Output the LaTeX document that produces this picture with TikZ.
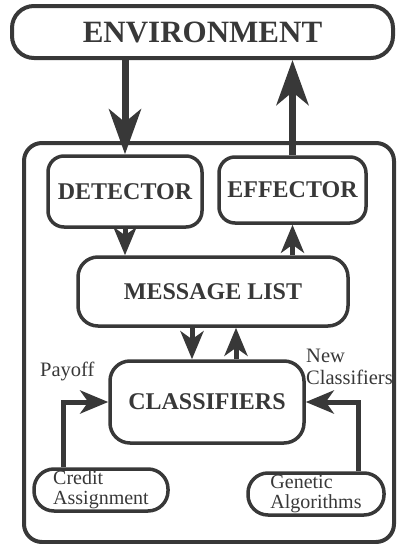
\documentclass[tikz,border=0pt]{standalone}
\usepackage{fontspec}
\setmainfont{Liberation Serif}
\usetikzlibrary{arrows.meta}

\definecolor{ink}{gray}{0.22}

\tikzset{
    box/.style={draw=ink, line width=3.5pt, rounded corners=16pt, text=ink,
        font=\fontsize{24}{28}\selectfont\bfseries},
    pill/.style={draw=ink, line width=3.5pt, rounded corners=20pt, text=ink,
        align=left, inner sep=0pt, font=\fontsize{20}{20}\selectfont},
    note/.style={text=ink, inner sep=0pt, font=\fontsize{20.5}{22}\selectfont},
    bigflow/.style={draw=ink, line width=7pt, -{Stealth[length=45pt, width=32pt, inset=13pt]}},
    flow/.style={draw=ink, line width=5pt, -{Stealth[length=28pt, width=23pt, inset=8pt]}},
}

\begin{document}
\begin{tikzpicture}[x=1pt, y=-1pt]
    \useasboundingbox (0,0) rectangle (398,544);

    % environment and the system frame
    \node[box, line width=4pt, rounded corners=22pt, minimum width=381pt, minimum height=52pt,
        font=\fontsize{31}{36}\selectfont\bfseries] (env) at (202.5,32) {ENVIRONMENT};
    \draw[ink, line width=4pt, rounded corners=18pt] (24,143) rectangle (394,542);

    \node[box, minimum width=154pt, minimum height=71pt] (det) at (125,191.5) {DETECTOR};
    \node[box, minimum width=147pt, minimum height=66pt] (eff) at (292.5,190) {EFFECTOR};
    \node[box, rounded corners=20pt, minimum width=270pt, minimum height=69pt] (ml) at (213,291.5) {MESSAGE LIST};
    \node[box, rounded corners=20pt, minimum width=194pt, minimum height=82pt] (cls) at (207,402) {CLASSIFIERS};
    \node[pill, minimum width=134pt, minimum height=42pt] (credit) at (101,490) {Credit\\Assignment};
    \node[pill, minimum width=136pt, minimum height=42pt] (genetic) at (316,494) {Genetic\\Algorithms};

    \node[note, anchor=base west] (payoff) at (40,376) {Payoff};
    \node[note, align=left, anchor=north west] (newcls) at (306,349) {New\\Classifiers};

    \coordinate (down) at ([xshift=-15pt]cls.north);
    \coordinate (up) at ([xshift=29pt]cls.north);
    \coordinate (ca) at ([xshift=-38pt]credit.north);
    \coordinate (ga) at ([xshift=42pt]genetic.north);

    \draw[bigflow] (det.north |- env.south) -- (det.north);
    \draw[bigflow] (eff.north) -- (eff.north |- env.south);
    \draw[flow] (det.south) -- (det.south |- ml.north);
    \draw[flow] (eff.south |- ml.north) -- (eff.south);
    \draw[flow] (down |- ml.south) -- (down);
    \draw[flow] (up) -- (up |- ml.south);
    \draw[flow] (ca) |- (cls.west);
    \draw[flow] (ga) |- (cls.east);
\end{tikzpicture}
\end{document}
